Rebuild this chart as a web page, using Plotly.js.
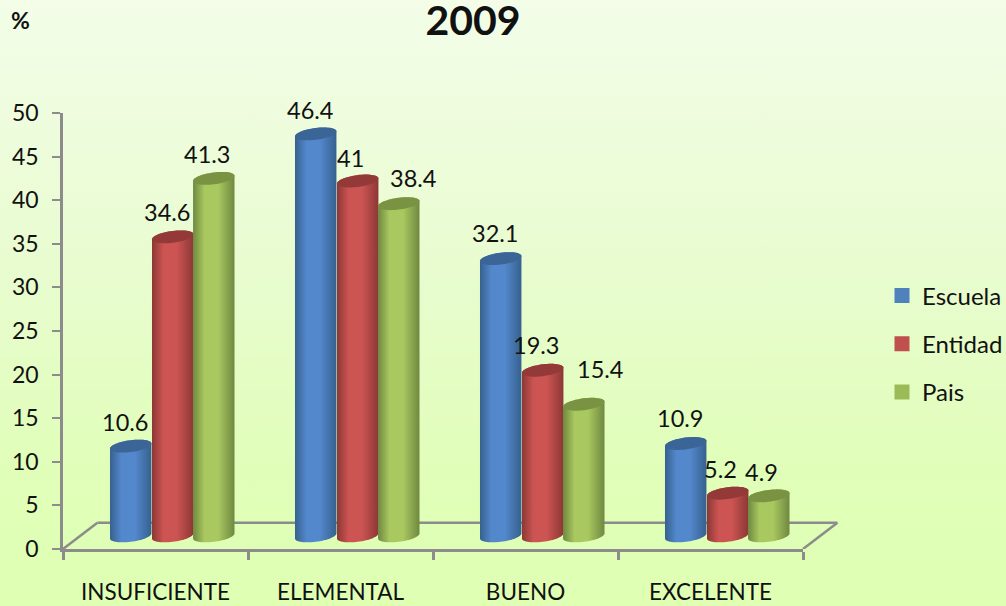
<!DOCTYPE html>
<html>
<head>
<meta charset="utf-8">
<script src="https://cdn.plot.ly/plotly-3.0.1.min.js"></script>
<style>
html,body{margin:0;padding:0;width:1006px;height:606px;overflow:hidden;background:linear-gradient(180deg,#f3fde8 0%,#e8fccf 45%,#e0feb8 78%,#dfffb3 100%);}
#chart{width:1006px;height:606px;}
</style>
</head>
<body>
<div id="chart"></div>
<script>
const categories = ["INSUFICIENTE", "ELEMENTAL", "BUENO", "EXCELENTE"];
const escuela = [10.6, 46.4, 32.1, 10.9];
const entidad = [34.6, 41, 19.3, 5.2];
const pais = [41.3, 38.4, 15.4, 4.9];
const labelEscuela = ["10.6", "46.4", "32.1", "10.9"];
const labelEntidad = ["34.6", "41", "19.3", "5.2"];
const labelPais = ["41.3", "38.4", "15.4", "4.9"];

const FONT = "Lato, 'Open Sans', sans-serif";
const series = [
  {name:"Escuela", values:escuela, labels:labelEscuela, color:"#4f81bd", edge:"#36618f", mid:"#5488cc", cap:"#3b6596", left:-0.246},
  {name:"Entidad", values:entidad, labels:labelEntidad, color:"#c0504d", edge:"#8c3836", mid:"#cc5452", cap:"#933a38", left:-0.019},
  {name:"Pais",    values:pais,    labels:labelPais,    color:"#9bbb59", edge:"#6f8840", mid:"#a9c960", cap:"#7a9343", left:0.203}
];
const BAR_W = 0.224, BASE = 1.2, FOOT = 1.5, RY = 0.68, SHEAR = 0.29, DEPTH_X = 0.186, DEPTH_Y = 3;
const CORE_W = 0.1;
const centers = categories.map((c,i)=>i+0.5);

function arc(xc, yc, t0, t1, n){
  const xs=[], ys=[];
  for(let k=0;k<=n;k++){
    const t=t0+(t1-t0)*k/n;
    xs.push(xc+BAR_W/2*Math.cos(t));
    ys.push(yc+RY*Math.sin(t)+SHEAR*Math.cos(t));
  }
  return [xs,ys];
}

const barTraces = series.map((s,si)=>({
  type:"bar", name:s.name, x:centers, y:s.values, base:BASE,
  width:CORE_W, offset:s.left+(BAR_W-CORE_W)/2,
  marker:{color:s.color, line:{color:s.color,width:3}},
  legendgroup:s.name, hoverinfo:"y+name"
}));

const cyl=[];
categories.forEach((c,ci)=>{
  series.forEach((s)=>{
    const xc=centers[ci]+s.left+BAR_W/2, top=BASE+s.values[ci];
    const low=arc(xc,FOOT,Math.PI,2*Math.PI,30);
    const up=arc(xc,top,0,Math.PI,30);
    cyl.push({type:"scatter",mode:"none",x:low[0].concat(up[0]),y:low[1].concat(up[1]),
      fill:"toself",
      fillgradient:{type:"horizontal",colorscale:[[0,s.edge],[0.28,s.mid],[0.6,s.mid],[1,s.edge]]},
      showlegend:false,hoverinfo:"skip"});
    const full=arc(xc,top,0,2*Math.PI,60);
    cyl.push({type:"scatter",mode:"none",x:full[0],y:full[1],fill:"toself",fillcolor:s.cap,
      showlegend:false,hoverinfo:"skip"});
  });
});

const labelShiftX=[[-6,-6,-6,-6],[-6,-7,-7,-7],[-7,14,16,-7]];
const labelShiftY=[[24,24,26,25],[25,23,25,24],[24,26,35,24]];
const annotations=[];
series.forEach((s,si)=>{
  s.values.forEach((v,ci)=>{
    annotations.push({xref:"x",yref:"y",x:centers[ci]+s.left+BAR_W/2,y:BASE+v,text:s.labels[ci],showarrow:false,
      xanchor:"center",yanchor:"middle",xshift:labelShiftX[si][ci],yshift:labelShiftY[si][ci],
      font:{family:FONT,size:23.5,color:"#111"}});
  });
});
annotations.push({xref:"paper",yref:"paper",x:(9-63)/740,xanchor:"left",y:(549-20)/436,yanchor:"middle",text:"<b>%</b>",showarrow:false,
  font:{family:FONT,size:23,color:"#111"}});

const AXC="#8c8c8c";
const dxp=DEPTH_X/4;
const floor=[
  {x0:0,y0:0,x1:dxp,y1:DEPTH_Y},
  {x0:dxp,y0:DEPTH_Y,x1:1+dxp,y1:DEPTH_Y},
  {x0:1,y0:0,x1:1+dxp,y1:DEPTH_Y}
].map(o=>Object.assign({type:"line",xref:"paper",yref:"y",layer:"below",line:{color:AXC,width:2.5}},o));

const layout={
  width:1006,height:606,
  margin:{l:63,r:203,t:113,b:57,pad:0,autoexpand:false},
  paper_bgcolor:"rgba(0,0,0,0)",plot_bgcolor:"rgba(0,0,0,0)",
  font:{family:FONT,color:"#111"},
  title:{text:"<b>2009</b>",x:473/1006,xanchor:"center",y:1-21/606,yanchor:"middle",font:{family:FONT,size:41,color:"#111"}},
  barmode:"overlay",
  showlegend:true,
  legend:{xref:"container",yref:"container",x:882/1006,xanchor:"left",y:1-344/606,yanchor:"middle",font:{family:FONT,size:24,color:"#111"},
    bgcolor:"rgba(0,0,0,0)",tracegroupgap:14,itemclick:false,itemdoubleclick:false},
  xaxis:{type:"linear",range:[0,4],tickmode:"array",tickvals:centers,ticktext:categories,ticks:"",
    showgrid:false,zeroline:false,showline:true,linecolor:AXC,linewidth:2.5,
    ticklabelstandoff:21,tickfont:{family:FONT,size:22.5,color:"#111"},
    minor:{tickmode:"array",tickvals:[0,1,2,3,4],ticks:"outside",ticklen:8,tickcolor:AXC,tickwidth:2.5,showgrid:false}},
  yaxis:{range:[0,50],tickmode:"array",tickvals:[0,5,10,15,20,25,30,35,40,45,50],ticks:"outside",ticklen:8,tickcolor:AXC,tickwidth:2,
    showgrid:false,zeroline:false,showline:true,linecolor:AXC,linewidth:2.5,
    ticklabelstandoff:9,tickfont:{family:FONT,size:23,color:"#111"}},
  shapes:floor,annotations:annotations
};
Plotly.newPlot("chart",barTraces.concat(cyl),layout,{displayModeBar:false,responsive:false});
</script>
</body>
</html>
